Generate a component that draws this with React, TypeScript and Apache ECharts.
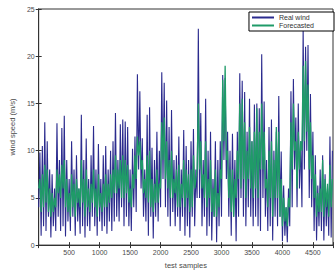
import React, { useEffect, useRef } from "react";
import * as echarts from "echarts";

// sample spacing between stored points (test samples)
const STEP = 20;
const X_MAX = 4830;

const realWind = [
  4, 9.8, 1, 10.5, 2, 13, 1.5, 11, 3, 8, 0.8, 7.5, 2, 6, 1.5, 12.9, 3, 9, 1.5, 12.4,
  2, 13.7, 0.9, 9, 2.5, 7, 1.5, 11, 3, 8, 1, 9.5, 2.5, 6, 1.2, 13.8, 2, 9, 0.8, 11.3,
  2, 7, 1.5, 9.5, 3, 12.6, 2, 8, 1, 10.7, 2.5, 7, 1.5, 9.5, 2, 10.5, 1.2, 8, 2.5, 10,
  1.5, 11, 2.5, 14, 3, 9, 2.5, 12.8, 4, 13.3, 2, 13.1, 3, 12.5, 2, 8, 1.5, 10.2, 4, 11.5,
  3.5, 18.1, 8, 16.3, 6, 11.3, 3, 8, 2.5, 13.8, 1, 14.6, 3, 10.3, 0.7, 9, 3, 12, 2.5, 10,
  4, 18.3, 7, 17.2, 4, 15.3, 3, 12.5, 2, 14.3, 3.5, 9, 2, 9.5, 3, 11.5, 1.5, 8, 3, 12.2,
  1, 10.5, 2, 9, 0.8, 11, 3, 12.3, 2, 8, 5, 22.9, 5, 14, 2, 9, 3, 15.5, 1, 10,
  2, 12, 0.5, 7, 3, 11, 0.3, 9, 2, 11, 3, 18, 9, 17.7, 7, 12, 3, 10, 1, 11.8,
  3, 9, 0.4, 12, 3, 18.2, 5, 17.4, 3, 16.2, 2, 12, 4, 15.5, 3, 11, 2, 14.9, 3, 15,
  2, 14.5, 1.5, 20.2, 5, 15.2, 3, 9, 1.5, 12.5, 2, 13.3, 0.5, 10, 3, 12, 2, 15.8, 3, 9.9,
  0.4, 6.3, 1, 4, 0.3, 6, 2, 16.3, 4, 17.6, 8, 13.5, 4, 15, 6, 11, 4, 23, 8, 21,
  10, 21.2, 5, 16, 4, 12, 1.5, 9.5, 0.5, 6.3, 2, 8, 1.5, 9.5, 0.5, 7.5, 2, 6, 1, 11.5,
  0.8, 10,
];

const forecasted = [
  6, 7, 3.5, 7.5, 4, 8.5, 4.5, 8, 3.5, 6, 3, 5.5, 3.5, 5, 4, 8, 5.5, 7.5, 5, 8.5,
  6, 9, 4, 7, 3.5, 5.5, 3, 7.5, 4, 6.5, 3, 7, 4.5, 6, 4, 9, 4.5, 7, 3, 8,
  4, 6, 3.5, 6.5, 4.5, 8, 4, 6, 3, 7.5, 4, 5.5, 3.5, 6.5, 4, 7.5, 4, 6.5, 4.5, 7.5,
  5, 8, 5.5, 9.5, 5.5, 8, 6, 9, 5, 9.5, 5, 9, 5.5, 8.5, 4.5, 6, 4, 7.5, 6, 9.5,
  7, 11.5, 9.5, 11, 8, 9, 5.5, 7, 5, 9.5, 4.5, 10, 4, 7, 3.5, 6.5, 4.5, 8, 4.5, 6.5,
  6, 13, 9, 13.5, 7, 11, 6, 9, 5, 10, 5, 7, 5.5, 8, 4, 8.5, 4, 6.5, 5, 9,
  4, 8, 5, 7.5, 3.5, 8, 4, 9.5, 6, 7, 8, 15, 8, 11, 6, 7.5, 5, 11, 4, 7,
  5, 9, 3.5, 6, 3, 8, 3, 5.5, 4, 8, 7, 17.5, 11, 19, 9, 10, 5, 8, 3.5, 8,
  3, 7, 5, 10, 7, 15, 6, 15.5, 7, 13, 5, 10, 7, 12.5, 6, 11, 5, 12, 6, 14.5,
  5, 12, 8, 15, 8, 12, 6, 7, 4, 10, 5, 11, 3, 9, 5, 12.5, 5, 12, 3, 7,
  2, 5, 2.5, 4, 2, 5, 4, 13, 8, 15, 10, 11, 6, 12, 8, 11, 10, 19, 11, 19.5,
  12, 17, 8, 13, 7, 9.5, 5, 7.5, 3, 5.5, 3.5, 6, 3.5, 9, 3, 7, 4, 6.5, 3, 8.5,
  4, 7,
];

const xTicks = [500, 1000, 1500, 2000, 2500, 3000, 3500, 4000, 4500];
const yTicks = [0, 5, 10, 15, 20, 25];

const FONT = "Liberation Sans, Arial, sans-serif";
const BLUE = "#2b2b8e";
const GREEN = "#1f9b68";

export default function App() {
  const ref = useRef<HTMLDivElement>(null);
  useEffect(() => {
    if (!ref.current) return;
    const chart = echarts.init(ref.current, undefined, { renderer: "svg" });
    const realData = realWind.map((v, i) => [i * STEP, v]);
    const foreData = forecasted.map((v, i) => [i * STEP, v]);
    const frame = "#333";
    const txt = "#4a4a4a";
    const xLabel = (v: number) => (xTicks.includes(v) ? String(v) : "");
    const yLabel = (v: number) => (yTicks.includes(v) ? String(v) : "");
    chart.setOption({
      animation: false,
      backgroundColor: "#fff",
      textStyle: { fontFamily: FONT, color: txt },
      grid: { left: 31, right: 1, top: 9, bottom: 25, show: true, borderColor: frame, borderWidth: 1, backgroundColor: "transparent" },
      legend: {
        orient: "vertical",
        right: 2,
        top: 12,
        padding: [2, 20, 2, 2],
        itemWidth: 22,
        itemHeight: 7,
        itemGap: 1,
        borderColor: "#000",
        borderWidth: 1,
        backgroundColor: "#fff",
        itemStyle: { opacity: 0 },
        textStyle: { fontSize: 7, color: "#333", fontFamily: FONT },
        data: ["Real wind", "Forecasted"],
      },
      xAxis: [
        {
          type: "value",
          min: 0,
          max: X_MAX,
          interval: 500,
          name: "test samples",
          nameLocation: "middle",
          nameGap: 15,
          nameTextStyle: { fontSize: 7.5, color: txt, fontFamily: FONT },
          axisLine: { show: true, lineStyle: { color: frame, width: 1 } },
          axisTick: { show: true, inside: true, length: 3, lineStyle: { color: frame } },
          axisLabel: { fontSize: 7, color: txt, margin: 4, formatter: xLabel, fontFamily: FONT },
          splitLine: { show: false },
        },
        {
          type: "value",
          position: "top",
          min: 0,
          max: X_MAX,
          interval: 500,
          axisLine: { show: true, lineStyle: { color: frame, width: 1 } },
          axisTick: { show: true, inside: true, length: 3, lineStyle: { color: frame } },
          axisLabel: { show: false },
          splitLine: { show: false },
        },
      ],
      yAxis: [
        {
          type: "value",
          min: 0,
          max: 25,
          interval: 5,
          name: "wind speed (m/s)",
          nameLocation: "middle",
          nameGap: 21,
          nameTextStyle: { fontSize: 7.5, color: txt, fontFamily: FONT },
          axisLine: { show: true, lineStyle: { color: frame, width: 1 } },
          axisTick: { show: true, inside: true, length: 3, lineStyle: { color: frame } },
          axisLabel: { fontSize: 7, color: txt, margin: 4, formatter: yLabel, fontFamily: FONT },
          splitLine: { show: false },
        },
        {
          type: "value",
          position: "right",
          min: 0,
          max: 25,
          interval: 5,
          axisLine: { show: true, lineStyle: { color: frame, width: 1 } },
          axisTick: { show: true, inside: true, length: 3, lineStyle: { color: frame } },
          axisLabel: { show: false },
          splitLine: { show: false },
        },
      ],
      series: [
        {
          name: "Real wind",
          type: "line",
          data: realData,
          symbol: "none",
          lineStyle: { color: BLUE, width: 1.1 },
          itemStyle: { color: BLUE },
        },
        {
          name: "Forecasted",
          type: "line",
          data: foreData,
          symbol: "none",
          lineStyle: { color: GREEN, width: 1.3 },
          itemStyle: { color: GREEN },
        },
      ],
    });
    return () => chart.dispose();
  }, []);
  return (
    <div
      ref={ref}
      style={{ position: "absolute", left: 0, top: 0, width: 336, height: 274, background: "#fff" }}
    />
  );
}
